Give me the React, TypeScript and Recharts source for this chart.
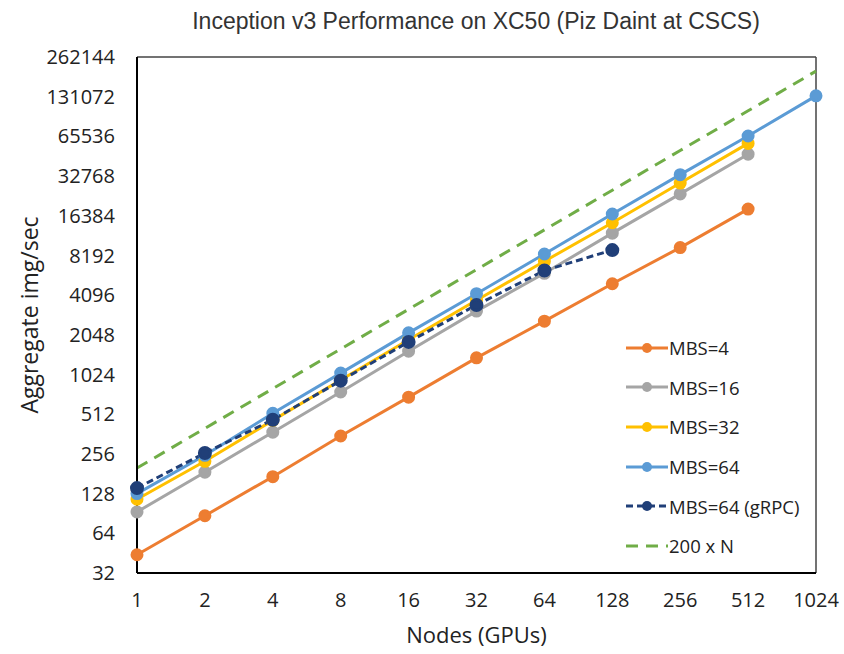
import React from "react";
import { LineChart, Line, XAxis, YAxis, ReferenceLine } from "recharts";

// nodes (GPUs)
const nodes = [1, 2, 4, 8, 16, 32, 64, 128, 256, 512, 1024];

// aggregate img/sec per series
const mbs4 = [44, 87, 172, 350, 690, 1370, 2600, 5000, 9400, 18400, null];
const mbs16 = [93, 186, 374, 755, 1540, 3100, 6000, 12100, 24000, 48000, null];
const mbs32 = [116, 225, 460, 930, 1880, 3750, 7400, 14500, 29000, 58000, null];
const mbs64 = [128, 250, 520, 1050, 2120, 4200, 8400, 16900, 33600, 66000, 133000];
const mbs64grpc = [141, 260, 465, 920, 1810, 3450, 6300, 9000, null, null, null];
const ideal = [200, 400, 800, 1600, 3200, 6400, 12800, 25600, 51200, 102400, 204800];

const yTicks = [32, 64, 128, 256, 512, 1024, 2048, 4096, 8192, 16384, 32768, 65536, 131072, 262144];

const data = nodes.map((n, i) => ({
  nodes: String(n),
  mbs4: mbs4[i],
  mbs16: mbs16[i],
  mbs32: mbs32[i],
  mbs64: mbs64[i],
  grpc: mbs64grpc[i],
  ideal: ideal[i],
}));

const FONT = "'Open Sans', 'Liberation Sans', sans-serif";

const legendItems = [
  { name: "MBS=4", color: "#ED7D31", dash: undefined, dot: true },
  { name: "MBS=16", color: "#A5A5A5", dash: undefined, dot: true },
  { name: "MBS=32", color: "#FFC000", dash: undefined, dot: true },
  { name: "MBS=64", color: "#5B9BD5", dash: undefined, dot: true },
  { name: "MBS=64 (gRPC)", color: "#203F78", dash: "7 4", dot: true },
  { name: "200 x N", color: "#70AD47", dash: "12 8", dot: false },
];

// legend drawn by hand so it sits inside the plot like the original
const LegendBox = () => (
  <div style={{ position: "absolute", left: 626, top: 328, fontFamily: FONT, fontSize: 18.5, color: "#222" }}>
    {legendItems.map((it, i) => (
      <div key={i} style={{ display: "flex", alignItems: "center", height: 39.6 }}>
        <svg width={42} height={14}>
          <line x1={0} y1={7} x2={42} y2={7} stroke={it.color} strokeWidth={3} strokeDasharray={it.dash} />
          {it.dot && <circle cx={21} cy={7} r={5} fill={it.color} />}
        </svg>
        <span style={{ marginLeft: 1 }}>{it.name}</span>
      </div>
    ))}
  </div>
);

export default function App() {
  return (
    <div style={{ position: "absolute", left: 0, top: 0, width: 844, height: 654, background: "#fff" }}>
      <div
        style={{
          position: "absolute",
          top: 8,
          left: 136,
          width: 680,
          textAlign: "center",
          fontFamily: "'Liberation Sans', Arial, sans-serif",
          fontSize: 23,
          color: "#333",
          whiteSpace: "nowrap",
        }}
      >
        Inception v3 Performance on XC50 (Piz Daint at CSCS)
      </div>
      <LineChart width={844} height={654} data={data} margin={{ top: 57, right: 28, left: 0, bottom: 9 }}>
        <XAxis
          dataKey="nodes"
          height={72}
          tickLine={false}
          tickMargin={14}
          axisLine={{ stroke: "#000", strokeWidth: 2 }}
          tick={{ fontFamily: FONT, fontSize: 20, fill: "#222" }}
          label={{ value: "Nodes (GPUs)", position: "insideBottom", offset: 2, style: { fontFamily: FONT, fontSize: 22, fill: "#222" } }}
        />
        <YAxis
          scale="log"
          domain={[32, 262144]}
          ticks={yTicks}
          allowDataOverflow
          width={137}
          tickLine={false}
          tickMargin={16}
          interval={0}
          axisLine={{ stroke: "#000", strokeWidth: 2 }}
          tick={{ fontFamily: FONT, fontSize: 20, fill: "#222" }}
          label={{ value: "Aggregate img/sec", angle: -90, position: "insideLeft", offset: 30, style: { textAnchor: "middle", fontFamily: FONT, fontSize: 23, fill: "#222" } }}
        />
        <ReferenceLine y={262144} stroke="#444" strokeWidth={1.5} />
        <ReferenceLine x="1024" stroke="#444" strokeWidth={1.5} />
        <Line dataKey="ideal" name="200 x N" stroke="#70AD47" strokeWidth={3} strokeDasharray="12 8" dot={false} isAnimationActive={false} />
        <Line dataKey="mbs4" name="MBS=4" stroke="#ED7D31" strokeWidth={3} dot={{ r: 5, fill: "#ED7D31", stroke: "#ED7D31" }} isAnimationActive={false} />
        <Line dataKey="mbs16" name="MBS=16" stroke="#A5A5A5" strokeWidth={3} dot={{ r: 5, fill: "#A5A5A5", stroke: "#A5A5A5" }} isAnimationActive={false} />
        <Line dataKey="mbs32" name="MBS=32" stroke="#FFC000" strokeWidth={3} dot={{ r: 5, fill: "#FFC000", stroke: "#FFC000" }} isAnimationActive={false} />
        <Line dataKey="mbs64" name="MBS=64" stroke="#5B9BD5" strokeWidth={3} dot={{ r: 5, fill: "#5B9BD5", stroke: "#5B9BD5" }} isAnimationActive={false} />
        <Line dataKey="grpc" name="MBS=64 (gRPC)" stroke="#203F78" strokeWidth={3} strokeDasharray="7 4" dot={{ r: 5.5, fill: "#203F78", stroke: "#203F78", strokeDasharray: "" }} isAnimationActive={false} />
      </LineChart>
      <LegendBox />
    </div>
  );
}
